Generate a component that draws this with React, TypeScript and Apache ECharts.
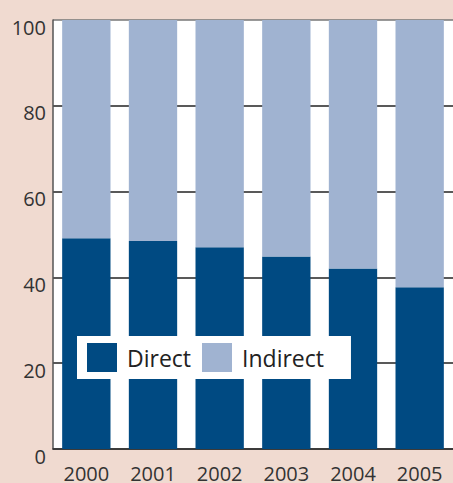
import React, { useEffect, useRef } from "react";
import * as echarts from "echarts";

const years = ["2000", "2001", "2002", "2003", "2004", "2005"];
const direct = [49.1, 48.5, 47.0, 44.9, 42.1, 37.7];
const indirect = [50.9, 51.5, 53.0, 55.1, 57.9, 62.3];
const yTicks = [0, 20, 40, 60, 80, 100];

const FONT = "'Open Sans', 'Noto Sans', sans-serif";

export default function App() {
  const ref = useRef<HTMLDivElement>(null);
  useEffect(() => {
    if (!ref.current) return;
    const chart = echarts.init(ref.current, null, { renderer: "svg" });
    chart.setOption({
      animation: false,
      backgroundColor: "#f0dad0",
      grid: {
        left: 53,
        top: 20,
        width: 406,
        height: 432,
        show: true,
        backgroundColor: "#ffffff",
        borderWidth: 0,
      },
      legend: {
        left: 77,
        top: 336,
        backgroundColor: "#ffffff",
        padding: [7, 27, 7, 10],
        itemWidth: 30,
        itemHeight: 29,
        itemGap: 11,
        icon: "rect",
        textStyle: { fontSize: 23, color: "#222", fontFamily: FONT, padding: [0, 0, 0, 5] },
        data: ["Direct", "Indirect"],
      },
      xAxis: {
        type: "category",
        data: years,
        axisTick: { show: false },
        axisLine: { lineStyle: { color: "#333", width: 1.5 } },
        axisLabel: { fontSize: 20, color: "#333", margin: 14, fontFamily: FONT },
      },
      yAxis: {
        type: "value",
        min: yTicks[0],
        max: yTicks[yTicks.length - 1],
        interval: 20,
        axisLine: { show: true, lineStyle: { color: "#555", width: 1.5 } },
        axisTick: { show: false },
        axisLabel: {
          fontSize: 20,
          color: "#333",
          margin: 7,
          fontFamily: FONT,
          verticalAlign: "top",
          lineHeight: 14,
        },
        splitLine: {
          lineStyle: {
            color: ["#222", "#222", "#222", "#222", "#222", "#777"],
            width: 1.5,
          },
        },
      },
      series: [
        {
          name: "Direct",
          type: "bar",
          stack: "total",
          data: direct,
          barCategoryGap: "27.5%",
          itemStyle: { color: "#004a82" },
        },
        {
          name: "Indirect",
          type: "bar",
          stack: "total",
          data: indirect,
          itemStyle: { color: "#a0b3d1" },
        },
      ],
    });
    return () => chart.dispose();
  }, []);
  return (
    <div
      ref={ref}
      style={{ position: "absolute", left: 0, top: 0, width: 453, height: 483 }}
    />
  );
}
